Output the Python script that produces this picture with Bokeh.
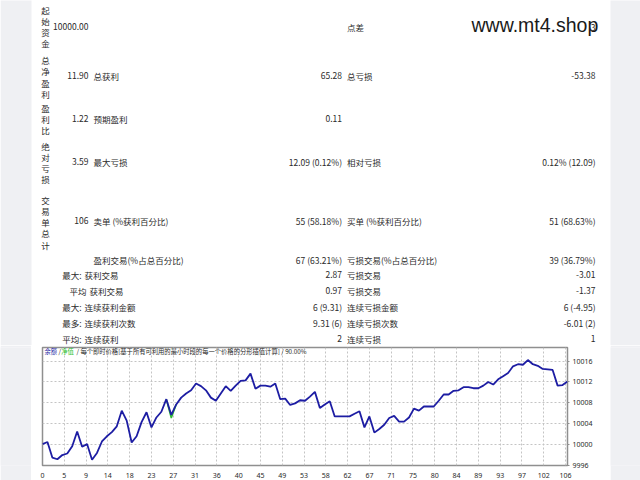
from bokeh.plotting import figure
from bokeh.layouts import column, row
from bokeh.models import Range1d, FixedTicker, Label
from bokeh.core.properties import value
from bokeh.embed import file_html
from bokeh.resources import INLINE

# ---------------- data ----------------
balance = [
    10000.1, 10000.5, 9997.5, 9997.2, 9998.0, 9998.3, 9999.7, 10002.5, 9999.6, 10000.1,
    9997.1, 9998.4, 10000.6, 10001.6, 10002.4, 10003.5, 10006.5, 10004.6, 10000.4, 10001.6,
    10004.3, 10006.2, 10003.3, 10005.2, 10006.3, 10008.7, 10005.7, 10007.7, 10009.0, 10009.8,
    10010.4, 10011.7, 10011.2, 10010.4, 10009.0, 10008.4, 10009.8, 10011.2, 10010.3, 10011.3,
    10012.2, 10012.3, 10013.6, 10010.7, 10011.3, 10011.3, 10011.1, 10011.7, 10008.7, 10008.8,
    10007.6, 10007.9, 10008.5, 10008.4, 10009.2, 10010.1, 10007.0, 10007.7, 10008.3, 10005.4,
    10005.4, 10005.4, 10005.4, 10005.9, 10006.4, 10003.3, 10005.4, 10002.3, 10003.0, 10003.8,
    10005.1, 10005.5, 10004.4, 10004.4, 10005.2, 10006.9, 10006.5, 10007.3, 10007.3, 10007.3,
    10008.4, 10009.6, 10009.6, 10010.3, 10010.4, 10011.0, 10011.0, 10010.8, 10010.8, 10011.3,
    10012.0, 10011.5, 10012.5, 10013.1, 10013.7, 10015.0, 10015.4, 10015.3, 10016.2, 10015.4,
    10015.1, 10014.5, 10014.4, 10014.3, 10011.3, 10011.4, 10012.1,
]
trade = list(range(len(balance)))
equity_trade = [25, 26, 27]
equity = [10008.7, 10005.1, 10007.7]

x_tick_labels = ["0", "5", "9", "14", "18", "23", "27", "31", "36", "40", "45", "49", "53",
                 "58", "62", "67", "71", "75", "80", "84", "89", "93", "97", "102", "106"]
y_ticks = [9996, 10000, 10004, 10008, 10012, 10016]

legend_balance = "余额"
legend_equity = "净值"
legend_rest = "/ 每个即时价格[基于所有可利用的最小时段的每一个价格的分形插值计算] / 90.00%"

vertical_titles = ["起始资金", "总净盈利", "盈利比", "绝对亏损", "交易单总计"]
col_a = ["10000.00", "11.90", "1.22", "3.59", "106"]
col_b = ["", "总获利", "预期盈利", "最大亏损", "卖单 (%获利百分比)", "盈利交易(%占总百分比)"]
col_c = ["", "65.28", "0.11", "12.09 (0.12%)", "55 (58.18%)", "67 (63.21%)",
         "2.87", "0.97", "6 (9.31)", "9.31 (6)", "2"]
col_d = ["点差", "总亏损", "", "相对亏损", "买单 (%获利百分比)", "亏损交易(%占总百分比)",
         "亏损交易", "亏损交易", "连续亏损金额", "连续亏损次数", "连续亏损"]
col_e = ["3", "-53.38", "", "0.12% (12.09)", "51 (68.63%)", "39 (36.79%)",
         "-3.01", "-1.37", "6 (-4.95)", "-6.01 (2)", "1"]
sub_prefix = ["最大:", "平均", "最大:", "最多:", "平均:"]
sub_text = ["获利交易", "获利交易", "连续获利金额", "连续获利次数", "连续获利"]
watermark = "www.mt4.shop"

# ---------------- layout constants ----------------
FONT = "Noto Sans CJK SC"
TXT = "#2a2a2a"
GRAY = "#eff0f3"
FS = "8.5px"
TABLE_H = 345
row_y = [26, 75, 118, 161, 220, 259, 274, 290, 306, 322, 338]
title_top = [9, 59.5, 107, 145, 199]
pitch = 11.3

# ---------------- report table (pixel layout) ----------------
table = figure(width=640, height=TABLE_H, x_range=Range1d(0, 640), y_range=Range1d(TABLE_H, 0),
               output_backend="svg", toolbar_location=None, min_border=0,
               x_axis_location=None, y_axis_location=None,
               background_fill_color="white", border_fill_color="white", outline_line_color=None)
table.grid.visible = False
table.quad(left=[0, 610], right=[31, 640], top=[-20, -20], bottom=[400, 400],
           fill_color=GRAY, line_color=None)

def put(xs, ys, texts, align, font=FONT, size=FS, color=TXT, baseline="middle"):
    table.text(x=xs, y=ys, text=texts, text_font=value(font), text_font_size=size,
               text_align=align, text_baseline=baseline, text_color=color)

# vertical titles
vx, vy, vt = [], [], []
for t, top in zip(vertical_titles, title_top):
    for k, ch in enumerate(t):
        vx.append(45)
        vy.append(top + k * pitch)
        vt.append(ch)
put(vx, vy, vt, "center")

put([88] * len(col_a), row_y[:len(col_a)], col_a, "right")
idx = [i for i, t in enumerate(col_b) if t]
put([93] * len(idx), [row_y[i] for i in idx], [col_b[i] for i in idx], "left")
idx = [i for i, t in enumerate(col_c) if t]
put([341.5] * len(idx), [row_y[i] for i in idx], [col_c[i] for i in idx], "right")
idx = [i for i, t in enumerate(col_d) if t]
put([346.5] * len(idx), [row_y[i] for i in idx], [col_d[i] for i in idx], "left")
idx = [i for i, t in enumerate(col_e) if t]
put([595] * len(idx), [row_y[i] + (1 if i == 0 else 0) for i in idx], [col_e[i] for i in idx], "right")

pre_x = [81, 86, 81, 81, 81]
txt_x = [84, 89, 84, 84, 84]
put(pre_x, row_y[6:], sub_prefix, "right")
put(txt_x, row_y[6:], sub_text, "left")

put([471], [24], [watermark], "left", font="Liberation Sans", size="19.5px",
    color="#1a1a1a", baseline="alphabetic")

# ---------------- equity chart ----------------
CH_H = 480 - TABLE_H
TOP_B, BOT_B = 2, 10
chart = figure(width=579, height=CH_H, x_range=Range1d(0, 106), y_range=Range1d(9996, 10018.6),
               output_backend="svg", toolbar_location=None,
               x_axis_location="below", y_axis_location="right",
               min_border_left=11, min_border_right=43, min_border_top=TOP_B, min_border_bottom=BOT_B,
               background_fill_color="white", border_fill_color="white",
               outline_line_color="#8f8f8f", outline_line_width=1.5)

x_tick_pos = [round(j * 4.4, 1) for j in range(len(x_tick_labels))]
xa = chart.xaxis[0]
xa.ticker = FixedTicker(ticks=x_tick_pos)
xa.major_label_overrides = {p: l for p, l in zip(x_tick_pos, x_tick_labels)}
xa.axis_line_color = None
xa.major_tick_line_color = None
xa.minor_tick_line_color = None
xa.major_label_standoff = 1
xa.major_label_text_font = "Noto Sans"
xa.major_label_text_font_size = "7px"
xa.major_label_text_color = TXT

ya = chart.yaxis[0]
ya.ticker = FixedTicker(ticks=y_ticks)
ya.major_label_overrides = {t: str(t) for t in y_ticks}
ya.axis_line_color = None
ya.major_tick_in = 0
ya.major_tick_out = 2
ya.major_tick_line_color = "#8f8f8f"
ya.minor_tick_line_color = None
ya.major_label_standoff = 3
ya.major_label_text_font = "Noto Sans"
ya.major_label_text_font_size = "7px"
ya.major_label_text_color = TXT

for g in chart.grid:
    g.grid_line_color = "#c4c4c4"
    g.grid_line_dash = "2 2"
    g.grid_line_width = 1

chart.line(equity_trade, equity, line_color="#2fbf2f", line_width=1.5)
chart.line(trade, balance, line_color="#1d1da3", line_width=1.8)

frame_h = CH_H - TOP_B - BOT_B
leg_y = frame_h - 9
for txt, lx, col in [(legend_balance, 2, "#1d1da3"), ("/", 16, TXT),
                     (legend_equity, 18.7, "#2fbf2f"), (legend_rest, 34, TXT)]:
    chart.add_layout(Label(x=lx, y=leg_y, x_units="screen", y_units="screen", text=txt,
                           text_font=FONT, text_font_size="6.3px", text_color=col,
                           text_baseline="middle"))

def strip(w):
    s = figure(width=w, height=CH_H, output_backend="svg", toolbar_location=None, min_border=0,
               x_axis_location=None, y_axis_location=None,
               x_range=Range1d(0, 1), y_range=Range1d(0, 1),
               background_fill_color=GRAY, border_fill_color=GRAY, outline_line_color=None)
    s.grid.visible = False
    return s

layout = column(table, row(strip(31), chart, strip(30)))

open("out.html", "w").write(file_html(layout, INLINE))
